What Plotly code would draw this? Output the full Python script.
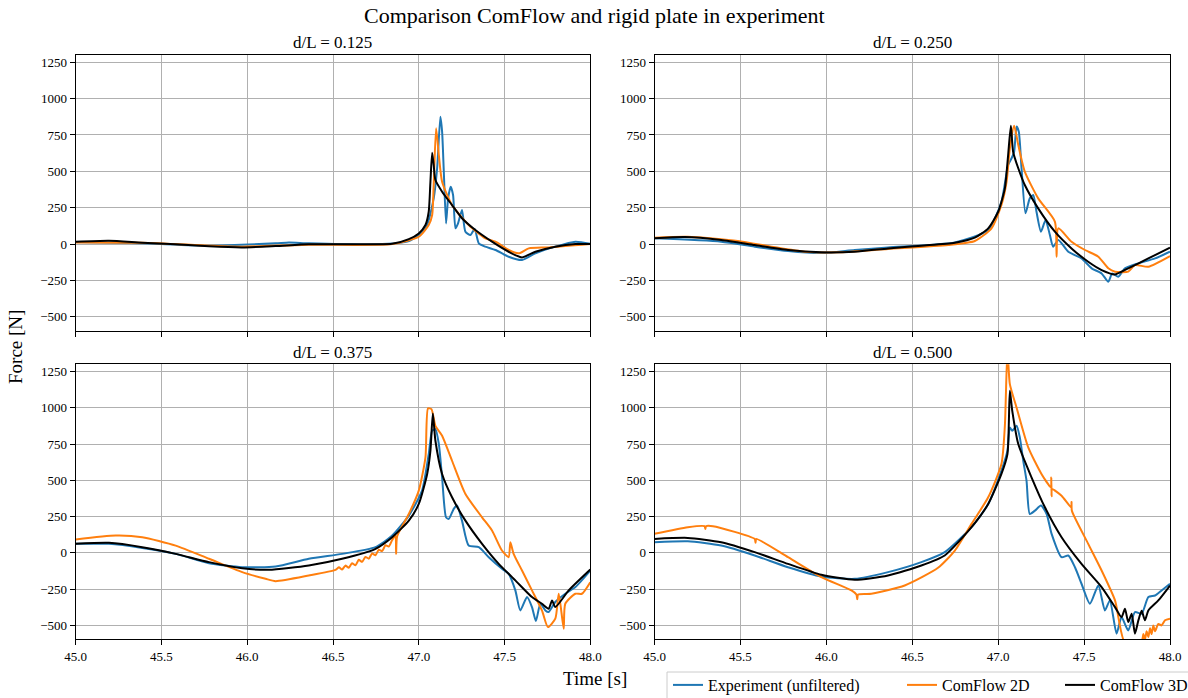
import plotly.graph_objects as go

# ---- d/L = 0.125 ----
t_exp_125 = [45.000, 45.388, 45.777, 46.165, 46.243, 46.359, 46.748, 46.942, 47.039, 47.087, 47.107,
             47.126, 47.136, 47.146, 47.159, 47.171, 47.186, 47.200, 47.214, 47.229, 47.252, 47.272,
             47.301, 47.326, 47.350, 47.388, 47.447, 47.524, 47.602, 47.680, 47.796, 47.913, 48.000]
f_exp_125 = [14, 5, -11, 5, 11, 5, -2, 20, 108, 314, 521,
             876, 773, 498, 142, 314, 394, 337, 108, 142, 234, 85,
             62, 103, 5, -18, -41, -87, -110, -64, -18, 16, 2]
t_2d_125 = [45.000, 45.388, 45.777, 45.971, 46.359, 46.845, 47.000, 47.058, 47.078, 47.087, 47.101,
            47.117, 47.136, 47.194, 47.291, 47.388, 47.447, 47.524, 47.583, 47.641, 47.757, 48.000]
f_2d_125 = [11, 9, -11, -18, -5, 0, 50, 131, 200, 406, 796,
            612, 429, 268, 131, 39, 16, -41, -64, -30, -23, 0]
t_3d_125 = [45.000, 45.194, 45.388, 45.583, 45.777, 45.971, 46.165, 46.359, 46.553, 46.748, 46.845,
            46.942, 47.000, 47.039, 47.058, 47.068, 47.078, 47.087, 47.097, 47.136, 47.194, 47.252,
            47.330, 47.427, 47.524, 47.602, 47.680, 47.796, 47.913, 48.000]
f_3d_125 = [16, 23, 9, -2, -16, -23, -14, -2, -2, -2, 2,
            34, 73, 131, 222, 429, 628, 544, 440, 360, 268, 177,
            96, 16, -53, -92, -53, -18, 0, 0]

# ---- d/L = 0.250 ----
t_exp_250 = [45.000, 45.388, 45.583, 45.777, 45.971, 46.165, 46.359, 46.748, 46.942, 47.019, 47.058,
             47.078, 47.093, 47.107, 47.120, 47.136, 47.159, 47.184, 47.204, 47.223, 47.249, 47.276,
             47.301, 47.320, 47.350, 47.408, 47.485, 47.544, 47.602, 47.641, 47.664, 47.699, 47.738,
             47.816, 47.913, 48.000]
f_exp_250 = [39, 16, -18, -48, -62, -41, -23, 11, 96, 291, 544,
             590, 635, 808, 773, 521, 211, 314, 337, 222, 85, 165,
             62, -18, 28, -53, -99, -167, -202, -259, -202, -225, -167,
             -133, -99, -53]
t_2d_250 = [45.000, 45.194, 45.485, 45.680, 45.874, 46.068, 46.359, 46.709, 46.864, 46.961, 47.019,
            47.049, 47.068, 47.093, 47.117, 47.155, 47.233, 47.330, 47.340, 47.350, 47.427, 47.505,
            47.583, 47.641, 47.680, 47.757, 47.796, 47.874, 48.000]
f_2d_250 = [44, 50, 21, -18, -53, -57, -34, -7, 21, 108, 268,
            429, 658, 814, 681, 498, 314, 154, -87, 108, 16, -41,
            -87, -167, -190, -190, -145, -156, -83]
t_3d_250 = [45.000, 45.175, 45.388, 45.583, 45.777, 45.971, 46.165, 46.359, 46.553, 46.748, 46.864,
            46.942, 47.000, 47.039, 47.058, 47.074, 47.087, 47.117, 47.155, 47.233, 47.330, 47.427,
            47.524, 47.602, 47.680, 47.757, 47.874, 48.000]
f_3d_250 = [39, 48, 28, -7, -41, -57, -53, -30, -11, 9, 44,
            108, 222, 383, 612, 814, 635, 521, 406, 245, 85, -30,
            -122, -179, -209, -167, -99, -25]

# ---- d/L = 0.375 ----
t_exp_375 = [45.000, 45.194, 45.388, 45.583, 45.777, 45.971, 46.165, 46.359, 46.553, 46.748, 46.845,
             46.942, 47.019, 47.058, 47.078, 47.097, 47.117, 47.136, 47.159, 47.175, 47.204, 47.223,
             47.252, 47.291, 47.350, 47.408, 47.485, 47.524, 47.563, 47.592, 47.631, 47.660, 47.683,
             47.709, 47.738, 47.757, 47.796, 47.854, 47.913, 48.000]
f_exp_375 = [62, 62, 34, -7, -71, -99, -94, -41, -7, 39, 119,
             257, 429, 681, 842, 853, 750, 521, 245, 234, 303, 326,
             222, 50, 39, -30, -110, -145, -259, -397, -305, -374, -470,
             -351, -397, -408, -339, -282, -236, -122]
t_2d_375 = [45.000, 45.233, 45.388, 45.583, 45.777, 45.971, 46.107, 46.165, 46.359, 46.515, 46.535,
            46.553, 46.572, 46.592, 46.611, 46.631, 46.650, 46.670, 46.689, 46.709, 46.728, 46.748,
            46.767, 46.786, 46.806, 46.825, 46.845, 46.864, 46.868, 46.874, 46.942, 47.000, 47.039,
            47.054, 47.074, 47.097, 47.136, 47.194, 47.272, 47.369, 47.427, 47.485, 47.524, 47.534,
            47.553, 47.602, 47.660, 47.718, 47.753, 47.796, 47.816, 47.845, 47.854, 47.913, 47.951,
            48.000]
f_2d_375 = [92, 119, 108, 50, -41, -133, -179, -195, -156, -117, -100,
            -115, -88, -102, -72, -86, -48, -62, -28, -40, -4, -16,
            22, 12, 52, 44, 88, 119, -7, 115, 268, 429, 658,
            996, 991, 876, 808, 635, 406, 245, 154, 16, -30, 73,
            -7, -122, -259, -397, -512, -454, -282, -523, -351, -282, -282,
            -202]
t_3d_375 = [45.000, 45.194, 45.388, 45.583, 45.777, 45.971, 46.126, 46.359, 46.553, 46.748, 46.845,
            46.942, 47.000, 47.049, 47.068, 47.082, 47.097, 47.136, 47.194, 47.272, 47.369, 47.466,
            47.563, 47.660, 47.718, 47.757, 47.777, 47.796, 47.874, 48.000]
f_3d_375 = [62, 69, 39, -7, -64, -106, -117, -87, -41, 28, 108,
            222, 337, 544, 704, 961, 773, 544, 383, 222, 62, -76,
            -190, -305, -351, -385, -328, -374, -259, -115]

# ---- d/L = 0.500 ----
t_exp_500 = [45.000, 45.194, 45.388, 45.583, 45.777, 45.971, 46.165, 46.359, 46.553, 46.689, 46.845,
             46.942, 47.019, 47.054, 47.068, 47.082, 47.107, 47.126, 47.146, 47.165, 47.184, 47.214,
             47.249, 47.282, 47.311, 47.369, 47.408, 47.447, 47.485, 47.534, 47.583, 47.621, 47.650,
             47.689, 47.718, 47.757, 47.796, 47.835, 47.874, 47.913, 47.951, 48.000]
f_exp_500 = [73, 80, 50, -18, -99, -163, -179, -133, -64, 5, 177,
             337, 567, 704, 865, 842, 876, 796, 635, 498, 268, 291,
             326, 268, 131, -30, -18, -99, -213, -351, -225, -397, -328,
             -557, -443, -535, -408, -420, -305, -294, -259, -213]
t_2d_500 = [45.000, 45.194, 45.291, 45.296, 45.300, 45.340, 45.583, 45.588, 45.592, 45.777, 45.971,
            46.146, 46.175, 46.180, 46.185, 46.262, 46.456, 46.650, 46.748, 46.845, 46.942, 47.019,
            47.039, 47.054, 47.068, 47.107, 47.175, 47.252, 47.307, 47.309, 47.311, 47.313, 47.369,
            47.425, 47.427, 47.429, 47.524, 47.602, 47.680, 47.738, 47.835, 47.845, 47.854, 47.864,
            47.874, 47.884, 47.893, 47.903, 47.913, 47.932, 47.951, 47.971, 48.000]
f_2d_500 = [131, 177, 184, 165, 184, 184, 96, 70, 96, -30, -167,
            -259, -287, -320, -287, -282, -225, -103, 16, 200, 383, 612,
            876, 1400, 1163, 1002, 727, 544, 452, 520, 390, 440, 394,
            314, 350, 290, 62, -122, -328, -620, -610, -560, -600, -540,
            -580, -520, -560, -500, -540, -490, -500, -465, -454]
t_3d_500 = [45.000, 45.194, 45.388, 45.583, 45.777, 45.971, 46.165, 46.359, 46.553, 46.689, 46.845,
            46.942, 47.019, 47.054, 47.068, 47.082, 47.117, 47.194, 47.272, 47.369, 47.485, 47.602,
            47.680, 47.718, 47.738, 47.757, 47.777, 47.796, 47.816, 47.835, 47.854, 47.874, 47.932,
            48.000]
f_3d_500 = [96, 103, 73, 5, -76, -151, -186, -156, -87, -18, 177,
            337, 544, 681, 1117, 979, 750, 521, 314, 108, -76, -236,
            -374, -443, -385, -477, -420, -557, -465, -400, -465, -397, -328,
            -225]

panel_titles = ["d/L = 0.125", "d/L = 0.250", "d/L = 0.375", "d/L = 0.500"]
series_names = ["Experiment (unfiltered)", "ComFlow 2D", "ComFlow 3D"]
series_colors = ["#1f77b4", "#ff7f0e", "#000000"]

panel_data = [
    [(t_exp_125, f_exp_125), (t_2d_125, f_2d_125), (t_3d_125, f_3d_125)],
    [(t_exp_250, f_exp_250), (t_2d_250, f_2d_250), (t_3d_250, f_3d_250)],
    [(t_exp_375, f_exp_375), (t_2d_375, f_2d_375), (t_3d_375, f_3d_375)],
    [(t_exp_500, f_exp_500), (t_2d_500, f_2d_500), (t_3d_500, f_3d_500)],
]

W, H = 1188, 698
FONT = "Liberation Serif"

# subplot frames in pixels: (left, right, top, bottom)
frames = [
    (75.7, 590.3, 55.0, 330.7),
    (654.5, 1170.0, 55.0, 330.7),
    (75.7, 590.3, 364.3, 639.3),
    (654.5, 1170.0, 364.3, 639.3),
]

# one legend per series so each entry sits at its own place in the bottom box
legend_ids = ["legend", "legend2", "legend3"]
legend_left_px = [668, 902, 1060]

fig = go.Figure()

for i, series in enumerate(panel_data):
    sfx = "" if i == 0 else str(i + 1)
    for j, (t, f) in enumerate(series):
        fig.add_trace(go.Scatter(
            x=t, y=f, mode="lines",
            xaxis="x" + sfx, yaxis="y" + sfx,
            name=series_names[j], legendgroup=series_names[j],
            legend=legend_ids[j],
            showlegend=(i == 0),
            line=dict(color=series_colors[j], width=2, shape="spline", smoothing=0.6),
        ))

axis_common = dict(
    showline=True, mirror=True, linecolor="black", linewidth=1,
    ticks="outside", ticklen=5, tickwidth=1, tickcolor="black",
    showgrid=True, gridcolor="#b0b0b0", gridwidth=1,
    zeroline=False, tickfont=dict(family=FONT, size=13, color="black"),
)

layout_axes = {}
for i, (l, r, t, b) in enumerate(frames):
    sfx = "" if i == 0 else str(i + 1)
    xdom = [l / W, r / W]
    ydom = [1 - b / H, 1 - t / H]
    layout_axes["xaxis" + sfx] = dict(
        axis_common, domain=xdom, range=[45, 48], dtick=0.5, tick0=45,
        tickformat=".1f", showticklabels=(i >= 2), anchor="y" + sfx,
    )
    layout_axes["yaxis" + sfx] = dict(
        axis_common, domain=ydom, range=[-596, 1300], dtick=250, tick0=0,
        anchor="x" + sfx,
    )

annotations = [
    dict(text="Comparison ComFlow and rigid plate in experiment", x=0.5, y=1 - 16 / H,
         xref="paper", yref="paper", xanchor="center", yanchor="middle", showarrow=False,
         font=dict(family=FONT, size=22, color="black")),
    dict(text="Time [s]", x=595 / W, y=1 - 678 / H, xref="paper", yref="paper",
         xanchor="center", yanchor="middle", showarrow=False,
         font=dict(family=FONT, size=19, color="black")),
    dict(text="Force [N]", x=15 / W, y=1 - 347 / H, xref="paper", yref="paper",
         xanchor="center", yanchor="middle", showarrow=False, textangle=-90,
         font=dict(family=FONT, size=19, color="black")),
]
for i, (l, r, t, b) in enumerate(frames):
    annotations.append(dict(
        text=panel_titles[i], x=(l + r) / 2 / W, y=1 - (t - 12) / H,
        xref="paper", yref="paper", xanchor="center", yanchor="middle", showarrow=False,
        font=dict(family=FONT, size=17, color="black"),
    ))

legend_layout = {}
for k, lid in enumerate(legend_ids):
    legend_layout[lid] = dict(
        orientation="h", x=legend_left_px[k] / W, y=1 - 685 / H,
        xanchor="left", yanchor="middle",
        bgcolor="rgba(0,0,0,0)", borderwidth=0,
        font=dict(family=FONT, size=16, color="black"),
        itemwidth=30,
    )

# frame drawn around the three legend entries
legend_box = dict(
    type="rect", xref="paper", yref="paper",
    x0=667 / W, x1=1196 / W, y0=1 - 704 / H, y1=1 - 672 / H,
    line=dict(color="#cccccc", width=1), fillcolor="white", layer="below",
)

fig.update_layout(
    width=W, height=H,
    margin=dict(l=0, r=0, t=0, b=0, autoexpand=False),
    paper_bgcolor="white", plot_bgcolor="white",
    annotations=annotations,
    shapes=[legend_box],
    **legend_layout,
    **layout_axes,
)

fig.write_html("out.html")
